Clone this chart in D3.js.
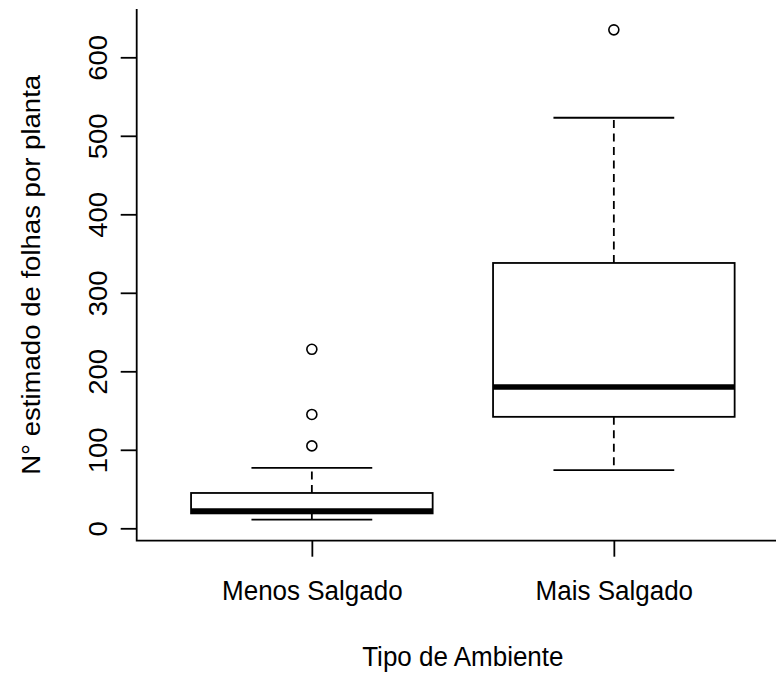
<!DOCTYPE html>
<html>
<head>
<meta charset="utf-8">
<script src="https://cdn.jsdelivr.net/npm/d3@7"></script>
<style>
  html, body { margin: 0; padding: 0; background: #fff; }
  svg { display: block; }
  text { font-family: "Liberation Sans", Arial, sans-serif; fill: #000; }
</style>
</head>
<body>
<svg id="chart" width="776" height="673"></svg>
<script>
// ---- data ----
const categories = ["Menos Salgado", "Mais Salgado"];
const lowerWhisker = [11, 74];
const q1 = [19, 142];
const median = [22, 180];
const q3 = [45, 338];
const upperWhisker = [77, 523];
const outliers = [[228, 145, 105], [635]];
const yTicks = [0, 100, 200, 300, 400, 500, 600];
const xLabel = "Tipo de Ambiente";
const yLabel = "N° estimado de folhas por planta";

// ---- layout ----
const W = 776, H = 673;
const plotLeft = 136.7, plotRight = 789, plotTop = 9, plotBottom = 540.7;
const fontSize = 26;
const k = 1.06; // vertical stretch of glyphs seen in the reference

const svg = d3.select("#chart");

const x = d3.scaleLinear().domain([0.42, 2.58]).range([plotLeft, plotRight]);
const y = d3.scaleLinear().domain([0, 600]).range([528.3, 57.3]);

const boxW = x(1.8) - x(1);      // boxwex 0.8
const capW = boxW / 2;            // staplewex 0.5

const data = categories.map((c, i) => ({
  cat: c, i: i + 1,
  lo: lowerWhisker[i], q1: q1[i], med: median[i], q3: q3[i], hi: upperWhisker[i],
  out: outliers[i]
}));

const g = svg.append("g");

// whiskers (dashed)
g.selectAll(".wl").data(data).enter().append("line")
  .attr("x1", d => x(d.i)).attr("x2", d => x(d.i))
  .attr("y1", d => y(d.q3)).attr("y2", d => y(d.hi))
  .attr("stroke", "#000").attr("stroke-width", 1.8).attr("stroke-dasharray", "8,5.5");
g.selectAll(".wl2").data(data).enter().append("line")
  .attr("x1", d => x(d.i)).attr("x2", d => x(d.i))
  .attr("y1", d => y(d.q1)).attr("y2", d => y(d.lo))
  .attr("stroke", "#000").attr("stroke-width", 1.8).attr("stroke-dasharray", "8,5.5");

// staples
["hi", "lo"].forEach(key => {
  g.selectAll(".cap-" + key).data(data).enter().append("line")
    .attr("x1", d => x(d.i) - capW / 2).attr("x2", d => x(d.i) + capW / 2)
    .attr("y1", d => y(d[key])).attr("y2", d => y(d[key]))
    .attr("stroke", "#000").attr("stroke-width", 1.8);
});

// boxes
g.selectAll(".box").data(data).enter().append("rect")
  .attr("x", d => x(d.i) - boxW / 2).attr("width", boxW)
  .attr("y", d => y(d.q3)).attr("height", d => y(d.q1) - y(d.q3))
  .attr("fill", "#fff").attr("stroke", "#000").attr("stroke-width", 1.8);

// medians
g.selectAll(".med").data(data).enter().append("line")
  .attr("x1", d => x(d.i) - boxW / 2).attr("x2", d => x(d.i) + boxW / 2)
  .attr("y1", d => y(d.med)).attr("y2", d => y(d.med))
  .attr("stroke", "#000").attr("stroke-width", 5.5);

// outliers
data.forEach(d => {
  g.selectAll(null).data(d.out).enter().append("circle")
    .attr("cx", x(d.i)).attr("cy", v => y(v)).attr("r", 5)
    .attr("fill", "none").attr("stroke", "#000").attr("stroke-width", 1.6);
});

// frame (bty = "l")
svg.append("path")
  .attr("d", `M${plotLeft},${plotTop}V${plotBottom}H${W}`)
  .attr("fill", "none").attr("stroke", "#000").attr("stroke-width", 1.8);

// y axis
const yAxis = svg.append("g").attr("transform", `translate(${plotLeft},0)`)
  .call(d3.axisLeft(y).tickValues(yTicks).tickSize(16).tickPadding(0).tickFormat(d3.format("d")));
yAxis.select(".domain").remove();
yAxis.selectAll(".tick line").attr("stroke", "#000").attr("stroke-width", 1.8);
yAxis.selectAll(".tick text")
  .attr("x", null).attr("dy", null)
  .attr("transform", `translate(-30,0) scale(1,${k}) rotate(-90)`)
  .attr("text-anchor", "middle")
  .style("font-size", fontSize + "px").style("font-family", "Liberation Sans, Arial, sans-serif");

// x axis
const xAxis = svg.append("g").attr("transform", `translate(0,${plotBottom})`)
  .call(d3.axisBottom(x).tickValues(data.map(d => d.i)).tickSize(16).tickPadding(0)
        .tickFormat((v, i) => categories[i]));
xAxis.select(".domain").remove();
xAxis.selectAll(".tick line").attr("stroke", "#000").attr("stroke-width", 1.8);
xAxis.selectAll(".tick text")
  .attr("y", null).attr("dy", null)
  .attr("transform", `translate(0,59) scale(1,${k})`)
  .style("font-size", fontSize + "px").style("font-family", "Liberation Sans, Arial, sans-serif");

// axis titles
svg.append("text")
  .attr("transform", `translate(${(plotLeft + plotRight) / 2},666) scale(1,${k})`)
  .attr("text-anchor", "middle").style("font-size", fontSize + "px")
  .text(xLabel);
svg.append("text")
  .attr("transform", `translate(40,${(plotTop + plotBottom) / 2}) scale(1,${k}) rotate(-90)`)
  .attr("text-anchor", "middle").style("font-size", fontSize + "px")
  .text(yLabel);
</script>
</body>
</html>
